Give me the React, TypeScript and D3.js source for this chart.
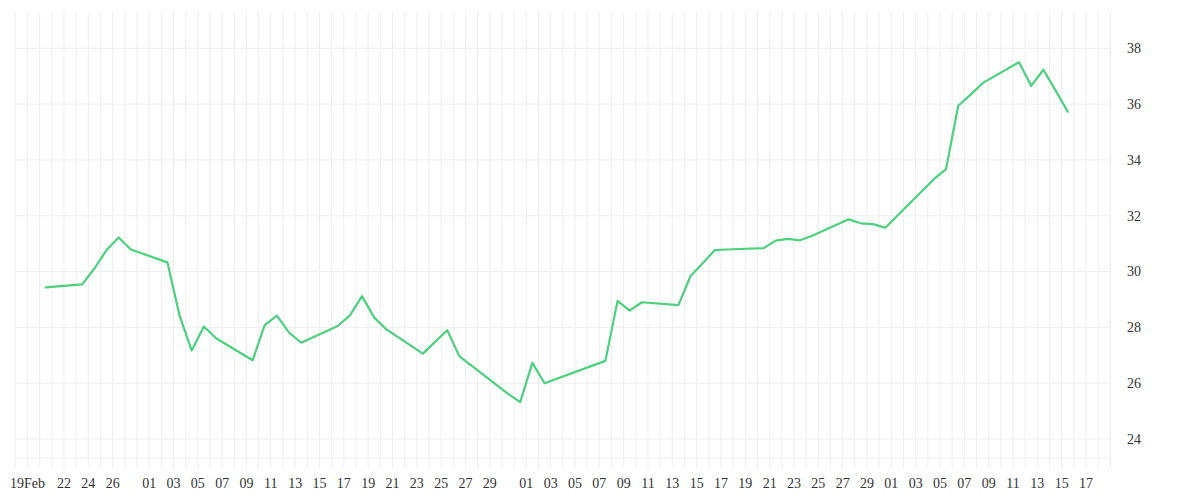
import React from "react";
import * as d3 from "d3";

const dates: string[] = [
  "2026-02-20", "2026-02-23", "2026-02-24", "2026-02-25", "2026-02-26", "2026-02-27",
  "2026-03-02", "2026-03-03", "2026-03-04", "2026-03-05", "2026-03-06",
  "2026-03-09", "2026-03-10", "2026-03-11", "2026-03-12", "2026-03-13",
  "2026-03-16", "2026-03-17", "2026-03-18", "2026-03-19", "2026-03-20",
  "2026-03-23", "2026-03-24", "2026-03-25", "2026-03-26", "2026-03-27",
  "2026-03-30", "2026-03-31", "2026-04-01", "2026-04-02",
  "2026-04-07", "2026-04-08", "2026-04-09", "2026-04-10",
  "2026-04-13", "2026-04-14", "2026-04-15", "2026-04-16", "2026-04-17",
  "2026-04-20", "2026-04-21", "2026-04-22", "2026-04-23", "2026-04-24",
  "2026-04-27", "2026-04-28", "2026-04-29", "2026-04-30",
  "2026-05-04", "2026-05-05", "2026-05-06", "2026-05-07", "2026-05-08",
  "2026-05-11", "2026-05-12", "2026-05-13", "2026-05-14", "2026-05-15",
];

const values: number[] = [
  29.43, 29.54, 30.11, 30.77, 31.22, 30.79,
  30.33, 28.43, 27.17, 28.03, 27.61,
  26.82, 28.08, 28.42, 27.81, 27.45,
  28.05, 28.43, 29.12, 28.35, 27.93,
  27.06, 27.48, 27.9, 26.96, 26.63,
  25.62, 25.32, 26.73, 26.0,
  26.8, 28.95, 28.6, 28.9,
  28.8, 29.84, 30.3, 30.77, 30.79,
  30.84, 31.11, 31.17, 31.12, 31.28,
  31.87, 31.73, 31.7, 31.57,
  33.31, 33.67, 35.94, 36.33, 36.75,
  37.5, 36.65, 37.23, 36.49, 35.73,
];

const xTickDates: string[] = [
  "2026-02-19", "2026-02-22", "2026-02-24", "2026-02-26",
  "2026-03-01", "2026-03-03", "2026-03-05", "2026-03-07", "2026-03-09", "2026-03-11",
  "2026-03-13", "2026-03-15", "2026-03-17", "2026-03-19", "2026-03-21", "2026-03-23",
  "2026-03-25", "2026-03-27", "2026-03-29",
  "2026-04-01", "2026-04-03", "2026-04-05", "2026-04-07", "2026-04-09", "2026-04-11",
  "2026-04-13", "2026-04-15", "2026-04-17", "2026-04-19", "2026-04-21", "2026-04-23",
  "2026-04-25", "2026-04-27", "2026-04-29",
  "2026-05-01", "2026-05-03", "2026-05-05", "2026-05-07", "2026-05-09", "2026-05-11",
  "2026-05-13", "2026-05-15", "2026-05-17",
];

const xTickLabels: string[] = [
  "19Feb", "22", "24", "26",
  "01", "03", "05", "07", "09", "11", "13", "15", "17", "19", "21", "23", "25", "27", "29",
  "01", "03", "05", "07", "09", "11", "13", "15", "17", "19", "21", "23", "25", "27", "29",
  "01", "03", "05", "07", "09", "11", "13", "15", "17",
];

const yTicks: number[] = [24, 26, 28, 30, 32, 34, 36, 38];

const xDomain: string[] = ["2026-02-18", "2026-05-19"];
const yDomain: number[] = [23.32, 39.3];

const parse = d3.utcParse("%Y-%m-%d");

export default function App() {
  const W = 1200;
  const H = 500;
  const left = 15.3;
  const right = 1110.3;
  const top = 12;
  const bottom = 458;
  const tickLen = 10;

  const start = parse(xDomain[0]) as Date;
  const end = parse(xDomain[1]) as Date;
  const x = d3.scaleUtc().domain([start, end]).range([left, right]);
  const y = d3.scaleLinear().domain(yDomain).range([bottom, top]);

  const days = d3.utcDay.range(start, d3.utcDay.offset(end, 1));
  const points = dates.map((d, i) => ({
    t: d3.utcHour.offset(parse(d) as Date, 12),
    v: values[i],
  }));
  const line = d3
    .line<{ t: Date; v: number }>()
    .x((p) => x(p.t))
    .y((p) => y(p.v));

  const grid = "#eeeeee";
  const font = "'Liberation Serif', 'Times New Roman', serif";

  return (
    <div style={{ position: "fixed", left: 0, top: 0, width: W, height: H, background: "#fff" }}>
      <svg width={W} height={H} style={{ display: "block" }}>
        <g>
          {days.map((d, i) => (
            <line
              key={"v" + i}
              x1={x(d)}
              x2={x(d)}
              y1={top}
              y2={bottom + tickLen}
              stroke={grid}
              strokeWidth={1}
            />
          ))}
          {yTicks.map((t) => (
            <line
              key={"h" + t}
              x1={left}
              x2={right}
              y1={y(t)}
              y2={y(t)}
              stroke={grid}
              strokeWidth={1}
            />
          ))}
          <line x1={left} x2={right} y1={bottom} y2={bottom} stroke={grid} strokeWidth={1} />
          <line x1={right} x2={right} y1={top} y2={bottom + tickLen} stroke={grid} strokeWidth={1} />
        </g>
        <path
          d={line(points) || ""}
          fill="none"
          stroke="#4dd07d"
          strokeWidth={2.2}
          strokeLinejoin="round"
          strokeLinecap="round"
        />
        <g fontFamily={font} fontSize={14} fill="#333">
          {xTickDates.map((d, i) => (
            <text key={"xt" + i} x={x(parse(d) as Date)} y={488} textAnchor="middle">
              {xTickLabels[i]}
            </text>
          ))}
          {yTicks.map((t) => (
            <text key={"yt" + t} x={1127} y={y(t)} dy="0.34em" textAnchor="start">
              {String(t)}
            </text>
          ))}
        </g>
      </svg>
    </div>
  );
}
